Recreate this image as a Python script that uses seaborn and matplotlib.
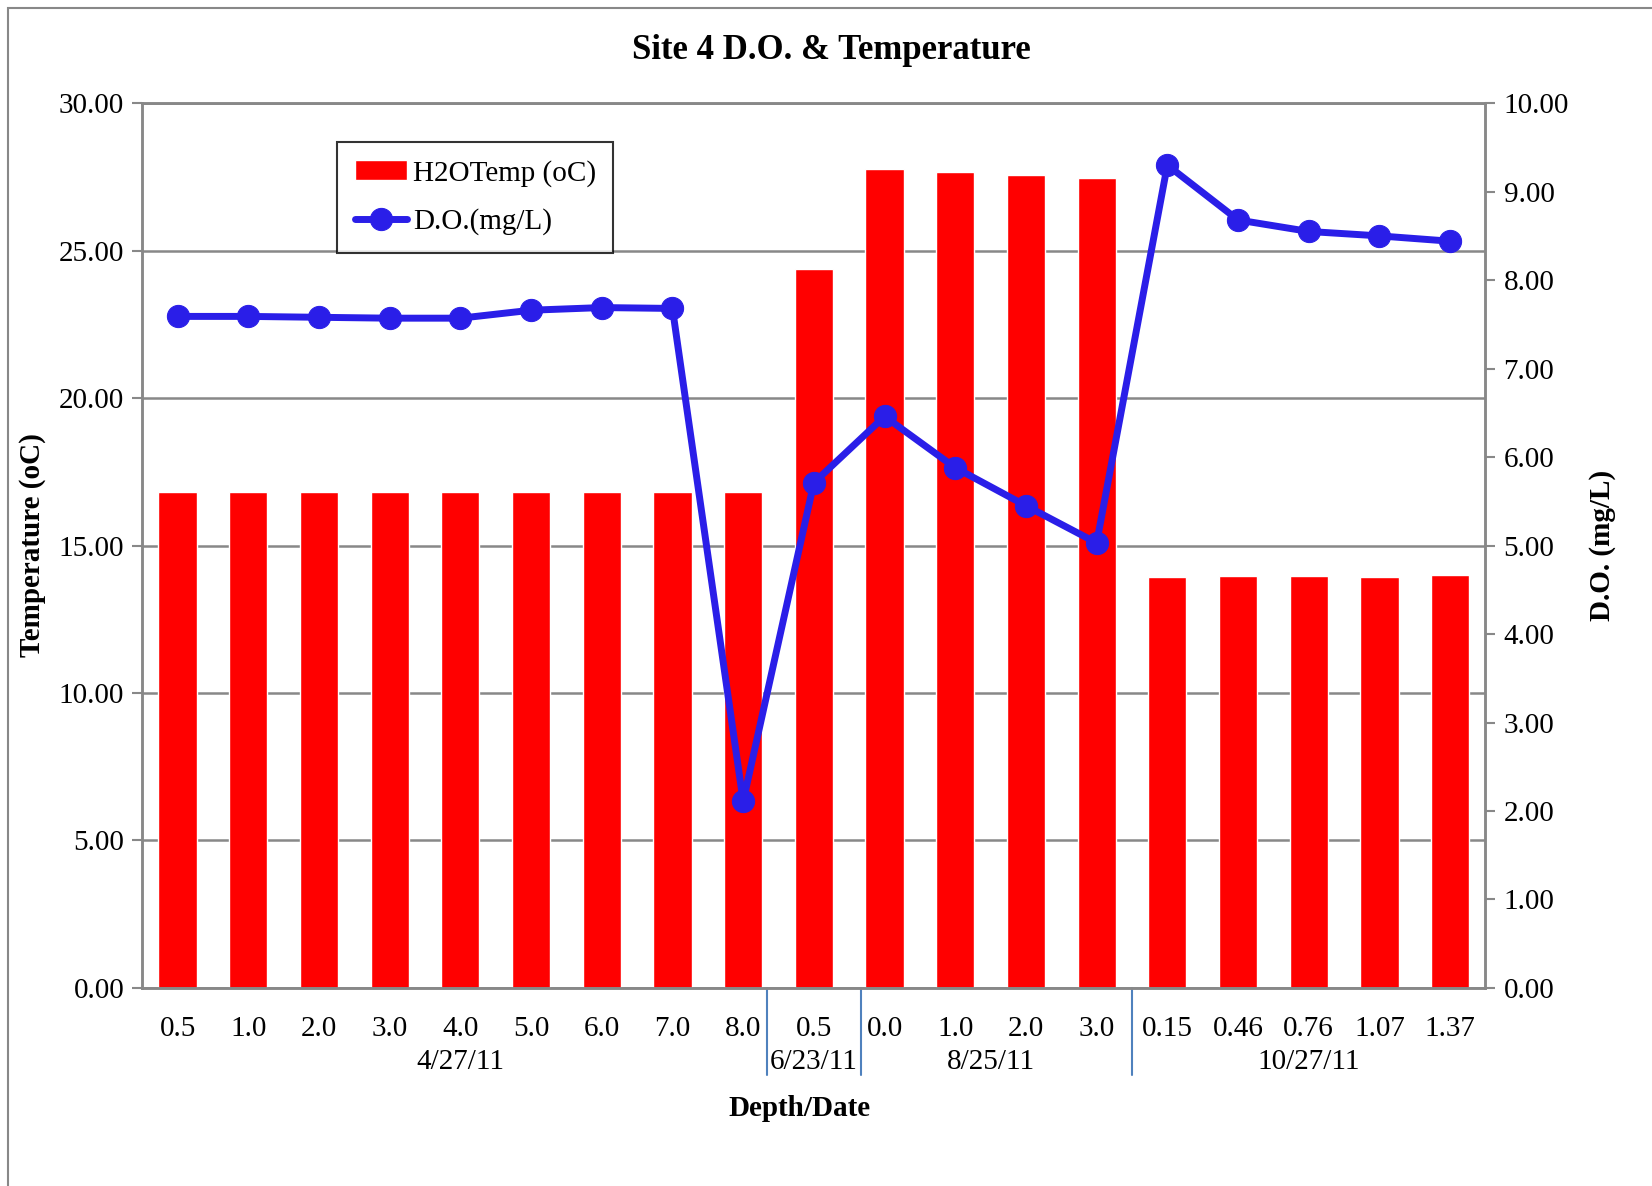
import matplotlib
matplotlib.use("Agg")
import matplotlib.pyplot as plt
import matplotlib.transforms as mtransforms
from matplotlib.patches import Rectangle
from matplotlib.ticker import FormatStrFormatter
import numpy as np
import seaborn as sns

# data
depths = ["0.5", "1.0", "2.0", "3.0", "4.0", "5.0", "6.0", "7.0", "8.0",
          "0.5",
          "0.0", "1.0", "2.0", "3.0",
          "0.15", "0.46", "0.76", "1.07", "1.37"]
date_groups = ["4/27/11", "6/23/11", "8/25/11", "10/27/11"]
group_sizes = [9, 1, 4, 5]
temp = [16.8, 16.8, 16.8, 16.8, 16.8, 16.8, 16.8, 16.8, 16.8,
        24.38,
        27.76, 27.68, 27.55, 27.48,
        13.95, 13.97, 13.97, 13.95, 14.0]
do = [7.59, 7.59, 7.58, 7.57, 7.57, 7.66, 7.69, 7.68, 2.11,
      5.71,
      6.46, 5.88, 5.45, 5.03,
      9.30, 8.68, 8.55, 8.50, 8.44]

pos = np.arange(len(depths))

sns.set_style("white")
plt.rcParams['font.family'] = ['Liberation Serif', 'DejaVu Serif']
plt.rcParams['text.color'] = 'black'
plt.rcParams['axes.labelcolor'] = 'black'

fig = plt.figure(figsize=(16.52, 11.86), dpi=100)
ax = fig.add_axes([0.0861, 0.167, 0.8131, 0.746])

grid_col = '#888888'
fs = 21

sns.barplot(x=pos, y=temp, ax=ax, color='#FF0000', saturation=1,
            width=0.54, label='H2OTemp (oC)')
ax.set_axisbelow(True)
ax.grid(axis='y', color=grid_col, lw=1.8)
ax.set_xlim(-0.5, 18.5)
ax.set_ylim(0, 30)
ax.set_yticks(np.arange(0, 31, 5))
ax.yaxis.set_major_formatter(FormatStrFormatter('%.2f'))
ax.set_xticks(pos)
ax.set_xticklabels(depths)
ax.tick_params(axis='x', length=0, pad=20, labelsize=fs, labelcolor='black')
ax.tick_params(axis='y', direction='out', length=7, width=1.5, color=grid_col,
               pad=6, labelsize=fs, left=True, labelcolor='black')

ax2 = ax.twinx()
sns.lineplot(x=pos, y=do, ax=ax2, color='#2A1EE8', lw=5, marker='o',
             markersize=16, markeredgecolor='#2A1EE8', label='D.O.(mg/L)')
ax2.set_ylim(0, 10)
ax2.set_yticks(np.arange(0, 11, 1))
ax2.yaxis.set_major_formatter(FormatStrFormatter('%.2f'))
ax2.tick_params(axis='y', direction='out', length=7, width=1.5, color=grid_col,
                pad=6, labelsize=fs, right=True, labelcolor='black')

for a in (ax, ax2):
    for s in a.spines.values():
        s.set_color(grid_col)
        s.set_linewidth(1.8)

ax.set_ylabel('Temperature (oC)', fontsize=fs, fontweight='bold')
ax.yaxis.set_label_coords(-0.072, 0.5)
ax2.set_ylabel('D.O. (mg/L)', fontsize=fs, fontweight='bold')
ax2.yaxis.set_label_coords(1.077, 0.5)
ax.set_xlabel('Depth/Date', fontsize=fs, fontweight='bold')
ax.xaxis.set_label_coords(0.489, -0.136)
ax.xaxis.label.set_va('center')

# date group labels and separators (narrow groups get a bit more room)
trans = mtransforms.blended_transform_factory(ax.transData, ax.transAxes)
edges = np.concatenate([[0], np.cumsum(group_sizes)]) - 0.5
seps = edges[1:-1].astype(float)
for i, n in enumerate(group_sizes):
    if n == 1:
        if i > 0:
            seps[i - 1] -= 0.16
        if i < len(seps):
            seps[i] += 0.17
start = 0
for name, n in zip(date_groups, group_sizes):
    center = start + (n - 1) / 2
    ax.text(center, -0.0835, name, transform=trans, ha='center', va='center',
            fontsize=fs)
    start += n
for sx in seps:
    ax.plot([sx, sx], [0, -0.098], transform=trans,
            color='#4F81BD', lw=1.5, clip_on=False)

h1, l1 = ax.get_legend_handles_labels()
h2, l2 = ax2.get_legend_handles_labels()
if ax.get_legend():
    ax.get_legend().remove()
leg = ax2.legend(h1 + h2, l1 + l2, loc='upper left',
                 bbox_to_anchor=(0.145, 0.956), borderaxespad=0,
                 fontsize=fs, frameon=True, fancybox=False,
                 handlelength=1.8, handletextpad=0.2, labelspacing=0.75,
                 borderpad=0.6)
leg.get_frame().set_edgecolor('black')
leg.get_frame().set_linewidth(1.5)

fig.text(0.503, 0.957, 'Site 4 D.O. & Temperature', ha='center', va='center',
         fontsize=25, fontweight='bold')

# outer chart frame
fig.patches.append(Rectangle((0.0051, -0.05), 1.1, 1.0429, transform=fig.transFigure,
                             fill=False, edgecolor=grid_col, lw=1.5))

fig.savefig('out.png', dpi=100)
